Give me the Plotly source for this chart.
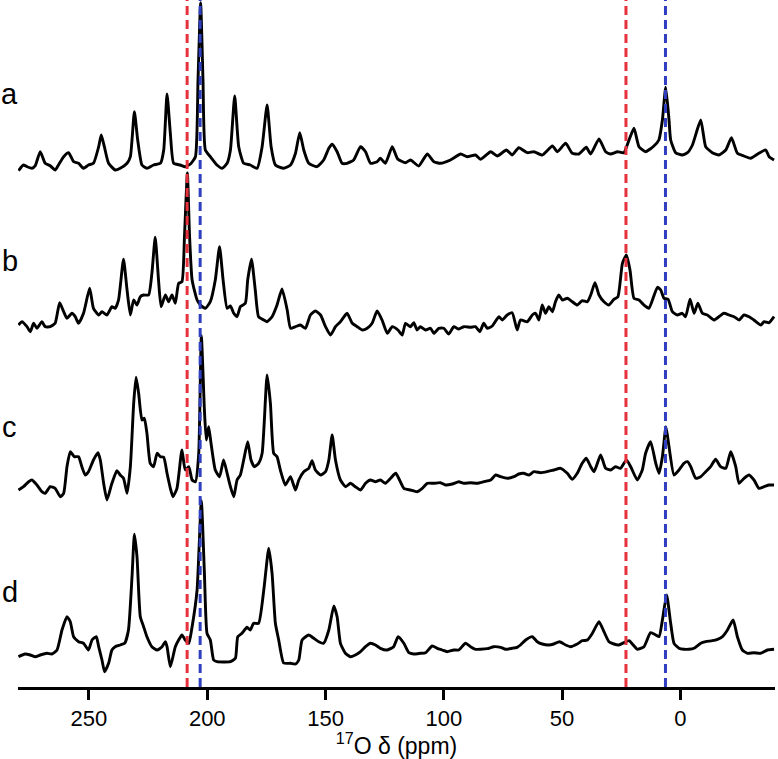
import plotly.graph_objects as go

# 17O chemical shift (ppm) and intensity (arb. units, relative to each trace baseline)
a_ppm = [279.8, 277.7, 276.2, 274.1, 272.7, 270.6, 268.5, 266.4, 264.3, 262.9, 260.7, 258.6, 256.5, 254.4,
         252.3, 250.2, 248.1, 245.9, 244.8, 243.5, 241.7, 238.9, 236.8, 233.9, 232.5, 230.8, 229.4, 227.6,
         225.5, 222.7, 219.8, 218.4, 217.0, 215.6, 214.2, 211.4, 209.3, 207.1, 205.0, 203.9, 202.8, 201.8,
         200.8, 198.7, 195.9, 193.7, 191.6, 190.2, 188.4, 186.7, 184.6, 181.8, 178.9, 176.8, 174.7, 173.0,
         171.2, 167.7, 164.8, 162.7, 160.9, 159.2, 157.1, 153.6, 150.8, 148.6, 147.2, 145.1, 143.0, 140.9,
         138.1, 135.2, 133.1, 131.0, 128.2, 126.8, 124.7, 121.8, 119.5, 116.2, 114.1, 110.6, 107.0, 104.2,
         101.4, 97.2, 92.9, 90.1, 86.6, 84.5, 80.2, 77.4, 73.5, 71.1, 68.3, 64.7, 61.9, 58.4, 54.1, 52.0,
         48.5, 45.7, 42.9, 39.8, 37.9, 34.4, 31.6, 29.5, 26.6, 23.9, 21.7, 19.6, 17.5, 14.7, 11.2, 9.1, 7.6,
         6.2, 4.8, 4.1, 2.0, -0.8, -3.0, -5.1, -8.6, -10.7, -13.5, -16.3, -19.2, -21.6, -24.1, -26.9, -29.7,
         -33.2, -36.1, -37.5, -39.6]
a_int = [-0.7, 5, 3.3, 1.7, 4.3, 18.3, 6.7, 4.3, 0, 5, 13.3, 17.3, 8.3, 6.7,
         1.7, 5, 6.7, 23.3, 35, 23.3, 6.7, 0, 1.7, 6.7, 13.3, 58.3, 30, 5,
         1.7, 5, 6.7, 20, 76, 36.7, 6.7, 5, 3.3, 6, 13.3, 90, 167.3, 90,
         20, 13.3, 5, 1.7, 6.7, 20, 74, 23.3, 6.7, 5, 1.7, 23.3, 65, 23.3,
         5, 1.7, 5, 16.7, 37.3, 20, 6.7, 3.3, 10, 21.7, 25.7, 18.3, 6.7, 6.7,
         10, 23.3, 18.3, 6.7, 8.3, 11.7, 6.7, 23.3, 11, 7.3, 10, 4, 16, 8.3,
         6.7, 10, 16, 13.3, 15, 10.7, 18.3, 14, 20, 15, 22.3, 17.3, 18.3, 15, 24, 18.3,
         26.7, 16.7, 16, 22.7, 16, 31, 18.3, 16, 18.3, 17.3, 30, 41.7, 23.3, 18.3, 24, 30, 50,
         82.7, 50, 30, 17.3, 15, 17.3, 25, 50, 23.3, 17.3, 15, 20, 32.3, 16.7, 14, 11.7,
         16.7, 20, 13.3, 10]

b_ppm = [279.8, 278.3, 276.2, 274.8, 273.4, 272.0, 269.9, 268.5, 266.4, 264.3, 262.4, 260.7, 259.3, 257.2,
         255.8, 254.4, 252.3, 249.7, 248.1, 245.9, 244.5, 242.4, 240.3, 238.9, 237.5, 235.4, 233.9, 232.5,
         231.1, 229.7, 228.3, 226.9, 224.8, 223.4, 222.0, 220.6, 219.5, 217.7, 216.3, 214.9, 213.5, 212.1,
         210.7, 209.6, 208.4, 207.5, 206.4, 204.3, 202.9, 200.8, 198.7, 196.6, 194.8, 193.3, 191.6, 190.2,
         188.8, 187.4, 186.0, 183.9, 182.9, 181.3, 179.7, 178.3, 176.1, 174.7, 172.6, 170.5, 168.4, 166.2,
         164.8, 162.7, 160.6, 158.5, 156.4, 154.3, 152.1, 150.0, 147.9, 145.8, 143.7, 140.9, 138.7, 136.6,
         134.5, 132.4, 130.3, 128.2, 126.1, 123.9, 121.8, 119.4, 117.6, 116.2, 114.1, 112.7, 111.3, 109.9,
         107.7, 105.6, 104.2, 102.1, 100.0, 97.9, 95.8, 93.7, 91.5, 88.7, 86.6, 84.8, 83.1, 81.6, 79.5,
         76.7, 75.3, 73.2, 71.1, 69.0, 67.6, 64.7, 62.6, 61.2, 59.8, 58.4, 57.0, 55.6, 54.1, 52.8, 51.4,
         49.9, 47.8, 45.7, 43.6, 41.5, 39.3, 37.9, 36.1, 34.4, 32.3, 30.2, 28.1, 26.4, 24.5, 22.8, 21.3,
         19.6, 17.5, 15.4, 13.3, 11.8, 9.7, 8.3, 6.9, 5.2, 3.4, 1.3, -0.8, -2.2, -4.1, -5.8, -7.4, -9.3,
         -11.4, -14.2, -16.3, -18.4, -20.6, -22.7, -24.8, -26.9, -29.0, -31.1, -34.0, -35.4, -37.5, -39.6]
b_int = [0, 3.3, -1.7, -6.7, 1.7, -3.3, 3.3, -1.7, -1.7, 1.7, 22.3, 13.3, 6.7, 11.7,
         8.3, 1.7, 11.7, 36.7, 16.7, 10, 13.3, 10, 18.3, 16.7, 25, 65.7, 35, 10,
         25, 20, 28.3, 30, 30, 51.7, 87.7, 45, 18.3, 30, 23.3, 30, 21.7, 41.7,
         43.3, 90, 152, 90, 45, 25, 20, 16.7, 23.3, 45, 78.3, 45, 16.7, 19,
         11.7, 8.3, 18.3, 21.7, 45, 65.7, 35, 8.3, 5, 3.3, 8.3, 20, 36, 15,
         -3.3, -1.7, 0, -3.3, 10, 14, 10, -1.7, -10, -1.7, 3.3, 11.7, 1.7, -1.7,
         -5, -3.3, 1.7, 14, 5, -8.3, -1.7, -5, -10, 1.7, -1.7, 2.3, -5, -1.7,
         -5, -3.3, -8.3, -3.3, -3.3, -9, -1.7, -4, -1.7, -2.3, -1.7, -6.7, 1.7, -3.3, -1,
         8.3, 5, 10, 12.3, -5, 5, 3.3, 10, 11.7, 5, 20, 11.7, 18.3, 13.3, 23.3, 30,
         25, 26.7, 23.3, 20, 24.3, 23.3, 30, 42.3, 30, 23.3, 20, 25.7, 28.3, 61.7, 70, 55,
         26.7, 25, 20, 16.7, 25, 37.7, 35, 26.7, 25.7, 13.3, 10, 11.7, 8.3, 25.7, 11.7, 21.7, 11.7,
         10, 5, 8.3, 11.7, 10, 8.3, 5, 10, 8.3, 5, 0, 3.3, 2.3, 8.3]

c_ppm = [279.8, 277.7, 275.5, 274.1, 272.0, 269.9, 268.5, 266.4, 264.3, 262.1, 260.7, 259.3, 257.9, 256.2,
         254.4, 253.0, 251.6, 250.2, 248.1, 246.2, 245.2, 243.8, 242.4, 240.3, 238.2, 236.8, 235.4, 233.9,
         232.5, 231.1, 230.1, 229.0, 227.6, 226.6, 225.5, 224.1, 222.7, 221.2, 219.8, 218.4, 217.0, 215.6,
         214.5, 212.8, 210.7, 209.3, 207.8, 206.4, 205.0, 203.6, 202.5, 201.2, 200.4, 199.4, 198.4, 196.6,
         194.8, 193.1, 191.6, 190.2, 188.8, 187.4, 186.0, 184.6, 182.9, 181.5, 180.1, 178.3, 176.8, 174.7,
         173.3, 171.9, 170.5, 169.1, 167.0, 164.8, 162.7, 161.3, 159.2, 157.1, 155.7, 154.3, 152.1, 150.0,
         148.6, 147.2, 145.8, 143.7, 141.5, 139.5, 137.4, 135.2, 133.1, 131.0, 128.9, 126.8, 124.7, 122.5,
         120.3, 116.9, 114.1, 111.3, 109.1, 107.0, 104.2, 101.4, 99.3, 96.4, 93.7, 91.5, 88.7, 85.9, 83.1,
         80.2, 78.1, 76.0, 73.2, 70.4, 68.3, 66.2, 64.0, 61.9, 59.1, 56.3, 53.5, 50.6, 47.8, 45.7, 43.6,
         41.5, 39.8, 37.9, 36.5, 33.7, 31.6, 29.5, 27.4, 25.3, 22.8, 21.0, 18.2, 16.1, 14.7, 12.6, 10.4,
         9.0, 7.6, 6.1, 4.8, 2.7, 0.6, -1.5, -3.0, -4.4, -6.5, -8.6, -10.7, -12.8, -14.9, -17.0, -19.2,
         -21.3, -23.4, -24.8, -26.9, -29.0, -31.1, -33.2, -35.4, -37.5, -39.6]
c_int = [0, 3.3, 8.3, 10, 5, -1.7, -3.3, 3.3, 1.7, -6.7, -3.3, 23.3, 38.3, 33.3,
         33.3, 23.3, 15, 18.3, 30, 37.3, 30, 6.7, -10, 6.7, 19.3, 15, 11.7, -3.3,
         23.3, 86.7, 112.7, 96.7, 70, 71.7, 56.7, 26.7, 23.3, 36.7, 33.3, 32.7, 16.7, 1.7,
         -6.7, 1.7, 40, 20, 23.3, 10, 8.3, 36.7, 154.3, 80, 50, 63.3, 46.7, 20,
         13.3, 30, 16.7, 3.3, -6.7, 10, 15, 30, 48.3, 30, 23.3, 26.7, 36.7, 115,
         86.7, 36.7, 33.3, 20, 5, 13.3, 0, 10, 18.3, 21.7, 29.3, 20, 15, 18.3,
         30, 55, 30, 10, 3.3, 6.7, 3.3, 0, 6.7, 10, 8.3, 10, 6.7, 11.7,
         16.7, 1.7, 0, -1.7, 1.7, 6.7, 6.7, 7.3, 5, 6, 8.3, 6.7, 7.3, 6.7, 8.3,
         10, 15, 13.3, 11.7, 13.3, 16, 16.7, 15, 18.3, 17.3, 18.3, 20, 21.7, 16.7, 10.7, 16.7,
         26.7, 31.7, 23.3, 18.3, 35, 21.7, 20, 23.3, 21.7, 30, 23.3, 10, 20, 36.7, 48.3, 26.7,
         16.7, 33.3, 63.3, 43.3, 15, 20, 26.7, 28.3, 23.3, 11.7, 13.3, 18.3, 23.3, 30.7, 23.3, 21.7,
         38.3, 23.3, 6.7, 11.7, 15, 10, 1.7, 3.3, 5, 5]

d_ppm = [279.8, 277.0, 274.8, 272.7, 270.6, 267.8, 265.7, 263.5, 261.4, 259.3, 257.9, 256.5, 254.4, 252.3,
         250.2, 248.7, 246.9, 245.9, 244.5, 243.4, 241.7, 240.3, 238.9, 236.8, 234.9, 233.3, 231.8, 230.8,
         229.7, 228.3, 226.9, 225.5, 223.4, 221.2, 219.1, 217.7, 217.0, 215.6, 213.5, 212.1, 210.7, 209.3,
         207.8, 206.4, 204.3, 202.5, 201.2, 200.1, 198.7, 197.3, 195.9, 190.2, 188.1, 187.1, 185.3, 183.2,
         181.8, 180.4, 178.3, 176.1, 174.0, 172.6, 171.2, 169.8, 167.7, 164.8, 162.7, 161.3, 159.9, 157.1,
         155.0, 152.9, 150.8, 148.6, 146.5, 145.1, 143.7, 141.6, 139.5, 137.4, 135.2, 133.1, 131.0, 128.9,
         126.8, 123.9, 121.2, 119.3, 116.9, 114.8, 112.7, 109.9, 107.7, 104.9, 102.8, 100.7, 98.6, 95.8,
         93.7, 90.8, 88.7, 86.6, 84.5, 81.6, 78.9, 76.0, 73.9, 71.1, 69.0, 67.6, 65.4, 62.6, 60.5, 58.4,
         55.6, 53.5, 51.1, 48.5, 46.4, 43.6, 41.5, 39.3, 37.2, 34.4, 32.3, 30.2, 28.1, 26.0, 23.9, 21.7,
         20.3, 18.2, 15.4, 12.6, 10.4, 9.0, 7.6, 5.8, 4.1, 2.7, 0.6, -1.5, -3.6, -5.8, -8.6, -10.7,
         -13.5, -15.7, -17.8, -19.9, -22.3, -24.1, -26.2, -28.3, -31.1, -33.9, -36.8, -39.6]
d_int = [-1.7, 1, 0, -1.7, 0, 1.7, 1, 5, 25, 38.3, 33.3, 18.3, 13.3, 11.7,
         5, 15, 18.3, 8.3, -5, -16.7, -8.3, 5, 8.3, 10, 11.7, 25, 78.3, 120.7,
         98.3, 38.3, 28.3, 18.3, 8.3, 5, 8.3, 13.3, 8.3, -11.7, 8.3, 15, 20, 15,
         11.7, 28.3, 65, 154.3, 81.7, 21.7, 15, -5, -6.7, -6.7, -3.3, 18.3, 21.7, 27.7,
         25, 31.7, 31.7, 65, 106.7, 81.7, 31.7, 15, -8, -8.3, -9, -5, 15, 20,
         16.7, 13.3, 11.7, 25, 49, 38.3, 11.7, 1.7, -1.7, 0, 3.3, 8.3, 11.7, 10,
         6.7, 5, 8.3, 18.3, 11.7, 2.3, 1, 1.7, 2.3, 9, 6.7, 5, 3.3, 5,
         5, 11.7, 8.3, 5.7, 5.7, 6.3, 8.3, 7.7, 5.7, 6.7, 7.7, 10, 15, 18.3, 13.3, 11,
         10, 11, 13.3, 10, 8.3, 11, 14.3, 15, 21.7, 33.3, 23.3, 13.3, 11, 10, 12.3, 14.3,
         11, 5.7, 8.3, 22.3, 20, 18.3, 35, 60, 31.7, 11.7, 6.7, 5.7, 5.7, 6.7, 11.7, 13.3,
         14.3, 15.7, 18.3, 25, 35, 18.3, 5, 1.7, 2.3, 1.7, 5, 5.7]

labels = ["a", "b", "c", "d"]
offsets = [517, 362, 197, 32]
red_lines = [208.5, 23]
blue_lines = [203, 6.3]

fig = go.Figure()
for ppm, inten, off in zip([a_ppm, b_ppm, c_ppm, d_ppm], [a_int, b_int, c_int, d_int], offsets):
    fig.add_trace(go.Scatter(x=ppm, y=[v + off for v in inten], mode="lines",
                             line=dict(color="black", width=2.9, shape="spline", smoothing=0.5),
                             hoverinfo="skip"))

for xv in red_lines:
    fig.add_shape(type="line", x0=xv, x1=xv, xref="x", yref="paper", y0=0, y1=1, layer="above",
                  line=dict(color="#e5323c", width=3, dash="9px,5px"))
for xv in blue_lines:
    fig.add_shape(type="line", x0=xv, x1=xv, xref="x", yref="paper", y0=0, y1=1, layer="above",
                  line=dict(color="#2f3fbf", width=3, dash="9px,5px"))

for lab, yv in zip(labels, [593, 426, 260, 95]):
    fig.add_annotation(text=lab, xref="paper", x=-0.0112, y=yv, yref="y", showarrow=False,
                       xanchor="center", yanchor="middle", font=dict(size=29, color="black"))

fig.update_layout(
    width=778, height=759,
    margin=dict(l=18, r=3, t=0, b=72),
    paper_bgcolor="white", plot_bgcolor="white",
    showlegend=False,
    font=dict(family="Liberation Sans, Arial, sans-serif", color="black"),
    xaxis=dict(range=[280, -40], tickvals=[250, 200, 150, 100, 50, 0],
               ticks="outside", ticklen=10, tickwidth=3, tickcolor="black",
               showline=True, linewidth=3, linecolor="black", showgrid=False, zeroline=False,
               tickfont=dict(size=22), ticklabelstandoff=0,
               title=dict(text="<sup>17</sup>O δ (ppm)", font=dict(size=23), standoff=8)),
    yaxis=dict(range=[0, 687], visible=False, showgrid=False, zeroline=False),
)

# drop the default page margin so the figure sits at the window's top-left corner
fig.write_html("out.html", config={"displayModeBar": False},
               post_script="document.body.style.margin='0px';")
